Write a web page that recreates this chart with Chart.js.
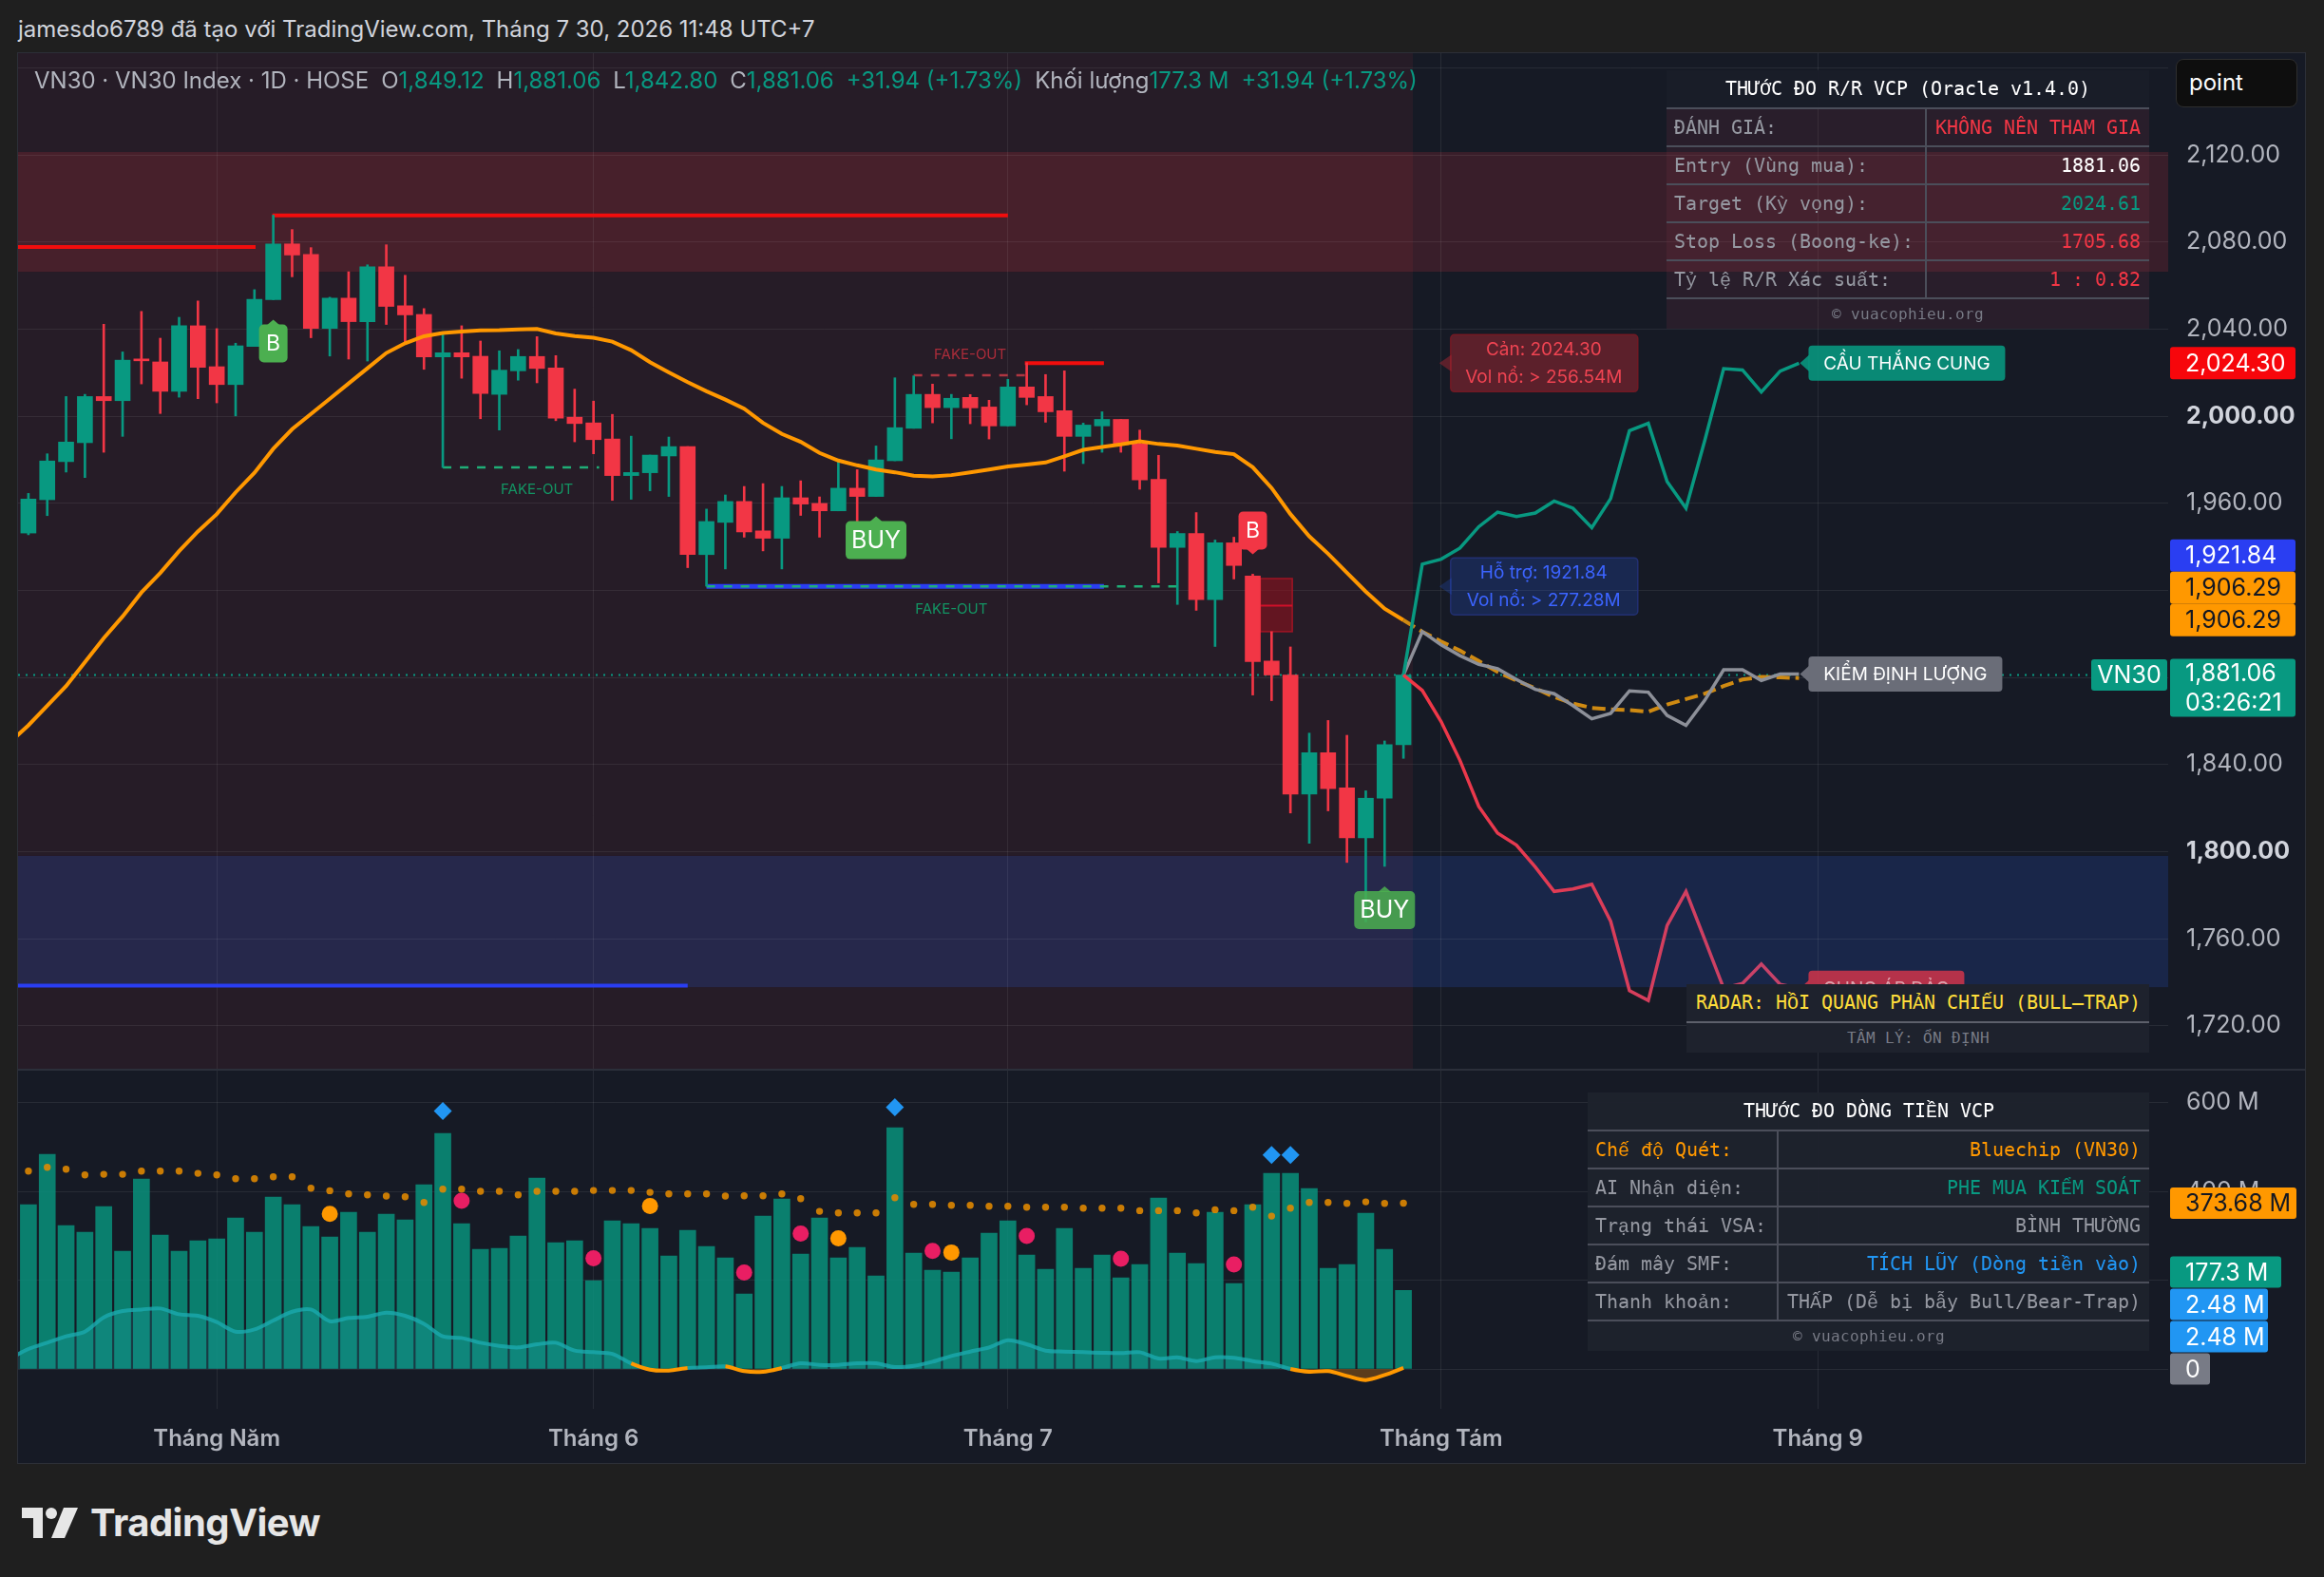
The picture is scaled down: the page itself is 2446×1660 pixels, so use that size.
<!DOCTYPE html>
<html lang="vi">
<head>
<meta charset="utf-8">
<title>VN30 · VN30 Index · 1D</title>
<script src="https://cdn.jsdelivr.net/npm/chart.js@4.4.1/dist/chart.umd.min.js"></script>
<style>
  @font-face { font-family: "TblMono"; src: local("DejaVu Sans Mono"); }
  @font-face { font-family: "TblMono"; src: local("Liberation Mono"); unicode-range: U+1EA0-1EF9; }
  html, body { margin: 0; padding: 0; background: #1f1f1f; }
  body { width: 2446px; height: 1660px; position: relative; overflow: hidden; font-family: Inter, "Noto Sans", sans-serif; }
  #frame { position: absolute; left: 18px; top: 55px; width: 2407px; height: 1484px; background: #161a25; border: 1px solid #2c2f38; }
  canvas { position: absolute; }
  #priceChart { left: 19px; top: 56px; }
  #volChart { left: 19px; top: 1127px; }
  #sep { position: absolute; left: 19px; top: 1125px; width: 2407px; height: 2px; background: #2b2f3a; }
  #hdr { position: absolute; left: 19px; top: 16px; font-size: 24px; color: #d1d4dc; white-space: nowrap; }
  #legend { position: absolute; left: 36px; top: 70px; font-size: 24px; color: #b2b5be; white-space: nowrap; }
  #legend .g { color: #089981; }
  #legend .s { display: inline-block; width: 13px; }
  #point { position: absolute; left: 2290px; top: 62px; width: 128px; height: 51px; box-sizing: border-box;
           background: #0e0e0e; border: 1px solid #2e2e2e; border-radius: 8px; color: #fff; font-size: 24px;
           line-height: 47px; padding-left: 13px; }
  .tb { position: absolute; font-family: "TblMono", "DejaVu Sans Mono", monospace; font-size: 20px; }
  .tb .tt { height: 39px; line-height: 39px; text-align: center; color: #fff; }
  .tb .tr { display: flex; height: 38px; line-height: 38px; border-top: 2px solid #4b4e5a; }
  .tb .k { box-sizing: border-box; padding-left: 8px; color: #9598a1; white-space: nowrap; overflow: hidden; }
  .tb .v { flex: 1; border-left: 2px solid #4b4e5a; text-align: right; padding-right: 9px; white-space: nowrap; color: #9598a1; }
  .tb .tf { height: 31px; line-height: 31px; border-top: 2px solid #4b4e5a; text-align: center; font-size: 16px; color: #787b86; }
  #rr .tt { background: rgba(26, 29, 41, 0.96); }
  #rr .tr, #rr .tf { background: rgba(122, 51, 72, 0.2); }
  #rr .k { width: 272px; }
  #flow .tt, #flow .tr, #flow .tf { background: rgba(30, 34, 45, 0.96); }
  #flow .k { width: 199px; }
  #radar { position: absolute; left: 1775px; top: 1036px; width: 487px; font-family: "TblMono", "DejaVu Sans Mono", monospace; background: #1e222d; }
  #radar .a { height: 39px; line-height: 39px; text-align: center; font-size: 20px; color: #fddc3a; border-bottom: 2px solid #5d606b; }
  #radar .b { height: 31px; line-height: 31px; text-align: center; font-size: 16px; color: #787b86; }
  #logo { position: absolute; left: 23px; top: 1578px; display: flex; align-items: center; color: #e6e6e6; font-size: 40px; font-weight: 700; letter-spacing: -0.5px; }
  #logo svg { margin-right: 12px; }
</style>
</head>
<body>
<div id="hdr">jamesdo6789 đã tạo với TradingView.com, Tháng 7 30, 2026 11:48 UTC+7</div>
<div id="frame"></div>
<canvas id="priceChart" width="2407" height="1070"></canvas>
<canvas id="volChart" width="2407" height="413"></canvas>
<div id="sep"></div>
<div id="legend"></div>
<div id="point">point</div>

<div class="tb" id="rr" style="left:1754px;top:74px;width:508px">
  <div class="tt">THƯỚC ĐO R/R VCP (Oracle v1.4.0)</div>
  <div class="tr"><span class="k">ĐÁNH GIÁ:</span><span class="v" style="color:#f23645">KHÔNG NÊN THAM GIA</span></div>
  <div class="tr"><span class="k">Entry (Vùng mua):</span><span class="v" style="color:#ffffff">1881.06</span></div>
  <div class="tr"><span class="k">Target (Kỳ vọng):</span><span class="v" style="color:#089981">2024.61</span></div>
  <div class="tr"><span class="k">Stop Loss (Boong-ke):</span><span class="v" style="color:#f23645">1705.68</span></div>
  <div class="tr"><span class="k">Tỷ lệ R/R Xác suất:</span><span class="v" style="color:#f23645">1 : 0.82</span></div>
  <div class="tf">© vuacophieu.org</div>
</div>

<div class="tb" id="flow" style="left:1671px;top:1150px;width:591px">
  <div class="tt">THƯỚC ĐO DÒNG TIỀN VCP</div>
  <div class="tr"><span class="k" style="color:#ff9800">Chế độ Quét:</span><span class="v" style="color:#ff9800">Bluechip (VN30)</span></div>
  <div class="tr"><span class="k">AI Nhận diện:</span><span class="v" style="color:#089981">PHE MUA KIỂM SOÁT</span></div>
  <div class="tr"><span class="k">Trạng thái VSA:</span><span class="v">BÌNH THƯỜNG</span></div>
  <div class="tr"><span class="k">Đám mây SMF:</span><span class="v" style="color:#2196f3">TÍCH LŨY (Dòng tiền vào)</span></div>
  <div class="tr"><span class="k">Thanh khoản:</span><span class="v">THẤP (Dễ bị bẫy Bull/Bear-Trap)</span></div>
  <div class="tf">© vuacophieu.org</div>
</div>

<div id="radar">
  <div class="a">RADAR: HỒI QUANG PHẢN CHIẾU (BULL–TRAP)</div>
  <div class="b">TÂM LÝ: ỔN ĐỊNH</div>
</div>

<div id="logo">
  <svg width="60" height="32" viewBox="0 0 60 32"><path d="M0 0h22v32h-10v-21h-12z" fill="#e6e6e6"/><circle cx="31" cy="6" r="6" fill="#e6e6e6"/><path d="M44 0h15l-14 32h-14z" fill="#e6e6e6"/></svg>
  <span>TradingView</span>
</div>

<script>
// ---------- daily candles (VN30, 1D) ----------
const opens = [1946.3, 1961.6, 1979.1, 1987.8, 2009.0, 2007.1, 2026.2, 2024.9, 2011.4, 2041.5,
               2022.7, 2014.5, 2032.0, 2053.5, 2079.1, 2074.3, 2040.3, 2054.2, 2043.4, 2068.6,
               2050.7, 2046.7, 2027.2, 2029.1, 2027.5, 2010.0, 2020.8, 2027.4, 2022.1, 1999.5,
               1996.9, 1989.5, 1972.7, 1974.0, 1981.7, 1986.0, 1936.4, 1951.2, 1960.8, 1947.3,
               1943.9, 1962.5, 1959.9, 1956.5, 1966.9, 1963.1, 1979.5, 1994.4, 2010.0, 2003.9,
               2008.6, 2004.2, 1995.5, 2013.4, 2009.0, 2002.5, 1990.7, 1995.5, 1998.5, 1987.3,
               1971.0, 1939.7, 1946.1, 1915.7, 1941.8, 1926.6, 1887.5, 1881.1, 1826.4, 1845.4,
               1829.2, 1806.3, 1824.5, 1849.12];
const highs = [1964.5, 1982.7, 2009.0, 2010.0, 2042.2, 2029.5, 2048.1, 2035.8, 2045.4, 2052.9,
               2040.2, 2033.5, 2058.1, 2092.3, 2085.7, 2077.4, 2054.6, 2066.3, 2069.5, 2078.7,
               2064.7, 2049.4, 2037.8, 2041.5, 2034.5, 2030.0, 2030.6, 2036.5, 2027.8, 2012.4,
               2006.9, 2000.8, 1990.8, 1982.1, 1990.4, 1986.0, 1957.3, 1963.8, 1967.7, 1969.0,
               1967.7, 1970.3, 1962.9, 1979.2, 1975.4, 1986.3, 2017.6, 2018.5, 2014.7, 2010.0,
               2009.9, 2007.3, 2016.9, 2024.5, 2019.1, 2020.8, 1996.8, 2002.0, 1998.5, 1993.6,
               1982.0, 1947.0, 1955.7, 1943.1, 1944.4, 1927.4, 1901.0, 1894.0, 1854.4, 1860.2,
               1853.4, 1827.9, 1850.8, 1881.06];
const lows = [1945.5, 1954.3, 1974.3, 1971.8, 1983.4, 1990.7, 2014.8, 2001.2, 2008.7, 2008.0,
              2006.1, 2000.1, 2032.0, 2053.5, 2064.0, 2036.0, 2027.6, 2026.2, 2025.3, 2042.1,
              2033.8, 2021.5, 1976.4, 2017.4, 1998.8, 1993.6, 2016.5, 2015.3, 1997.9, 1988.2,
              1982.7, 1961.3, 1961.8, 1965.7, 1963.1, 1930.4, 1921.9, 1929.8, 1944.4, 1938.1,
              1929.8, 1954.4, 1944.4, 1956.5, 1943.6, 1963.1, 1979.5, 1994.4, 1996.9, 1989.6,
              1996.5, 1989.5, 1995.5, 2005.2, 1997.2, 1974.7, 1978.2, 1983.4, 1983.4, 1966.4,
              1923.4, 1913.5, 1910.8, 1894.2, 1925.2, 1871.9, 1869.3, 1817.7, 1803.8, 1818.7,
              1795.0, 1767.7, 1793.2, 1842.80];
const closes = [1961.9, 1979.4, 1988.1, 2009.0, 2007.1, 2025.7, 2025.4, 2011.4, 2041.5, 2022.4,
                2014.5, 2032.3, 2053.7, 2079.1, 2074.0, 2040.3, 2054.2, 2043.4, 2068.6, 2050.4,
                2046.5, 2027.2, 2029.1, 2027.2, 2010.4, 2021.1, 2027.4, 2021.9, 1999.1, 1996.6,
                1989.2, 1972.7, 1974.1, 1982.1, 1986.0, 1936.4, 1951.6, 1960.8, 1946.8, 1943.9,
                1962.5, 1959.6, 1956.5, 1966.9, 1963.1, 1979.9, 1994.7, 2010.0, 2003.9, 2008.2,
                2003.8, 1995.5, 2013.4, 2008.6, 2002.0, 1990.7, 1995.9, 1998.5, 1986.9, 1970.7,
                1939.7, 1946.1, 1915.7, 1941.8, 1931.4, 1887.2, 1881.1, 1826.4, 1845.4, 1828.9,
                1806.3, 1824.5, 1849.12, 1881.06];
// trend average (orange); maPrior is the bar just left of the visible range
const maPrior = 1850;
const trendMa = [1858, 1867, 1876, 1887, 1898, 1908, 1919, 1928, 1938, 1947,
                 1955, 1965, 1974, 1985, 1994, 2001, 2008, 2015, 2022, 2029,
                 2033.5, 2036.7, 2038.2, 2038.8, 2039.4, 2039.5, 2039.8, 2040, 2038, 2036.8,
                 2036, 2034.2, 2030.3, 2024.8, 2020.1, 2015.6, 2011.4, 2007.6, 2003.4, 1996.9,
                 1991.8, 1988.2, 1983.1, 1979.6, 1977.4, 1975.5, 1974.2, 1972.6, 1972.3, 1972.9,
                 1974.2, 1975.5, 1976.9, 1977.8, 1978.7, 1981.5, 1984.5, 1985.8, 1987, 1988.4,
                 1987.2, 1986.5, 1985, 1983.5, 1982.5, 1976.5, 1967, 1955, 1944.8, 1936.8,
                 1928.1, 1919.4, 1911.6, 1906.29];

// ---------- projected paths (start at the last bar) ----------
const projStart = 73;
const projBull = [1881.06, 1932, 1934.3, 1939.4, 1949.2, 1955.9, 1953.9, 1955.5, 1961, 1957.7, 1948.8,
                  1962.1, 1993.3, 1996.7, 1969.9, 1957.7, 1988.9, 2021.8, 2021.2, 2011.1, 2020.7, 2024.3];
const projBase = [1881.06, 1901, 1895, 1890, 1886, 1884, 1879, 1874.5, 1872.5, 1867, 1861,
                  1863.5, 1873.8, 1873.2, 1862.5, 1858, 1869.5, 1883.5, 1883.5, 1878.6, 1881.5, 1881.5];
const projBear = [1881.06, 1874, 1859.7, 1841.9, 1820.7, 1808.5, 1803, 1792.9, 1781.7, 1782.8, 1785,
                  1768, 1736.1, 1731.6, 1766.1, 1781.7, 1759.5, 1737.2, 1739.4, 1748.3, 1739, 1737.2];
const maForward = [1906.29, 1901, 1896.5, 1892.3, 1887.5, 1882.5, 1878.5, 1875, 1871, 1868, 1866,
                   1865.3, 1865, 1864.2, 1867.5, 1870, 1872.5, 1876, 1879, 1880.2, 1880, 1879.7];

// ---------- volume pane (millions) ----------
const volumes = [370.3, 483.8, 323.2, 308.2, 366, 265.4, 428.1, 301.8, 265.4, 289,
                 293.2, 340.3, 308.2, 387.4, 370.3, 321.1, 297.5, 353.2, 308.2, 348.9,
                 336.1, 415.3, 530.8, 327.5, 269.7, 271.8, 299.7, 430.2, 284.7, 289,
                 199.1, 333.9, 327.5, 316.8, 254.7, 312.5, 276.1, 250.4, 169.1, 344.6,
                 383.1, 259, 340.3, 250.4, 274, 209.8, 543.7, 261.1, 222.6, 218.3,
                 250.4, 306.1, 333.9, 256.9, 224.8, 316.8, 226.9, 256.9, 205.5, 235.5,
                 385.3, 261.1, 237.6, 353.2, 192.6, 370.3, 441, 441, 406.7, 226.9,
                 235.5, 351, 269.7, 177.3];
const volAvg = [446, 454.5, 450.2, 437.4, 438.8, 438.8, 446, 446, 446, 440.9,
                437.4, 428.8, 428.8, 433.1, 433.1, 407.4, 401.7, 394.5, 392.4, 389.6,
                388.1, 375.3, 405.3, 405.3, 400.3, 400.3, 392.4, 400.3, 400.3, 400.3,
                402.4, 402.4, 402.4, 398.1, 394.5, 394.5, 394.5, 389.6, 390.3, 390.3,
                394.5, 383.9, 355.3, 351.8, 351.8, 351.8, 386, 371, 371, 368.9,
                368.9, 366.7, 366.7, 364.6, 364.6, 364.6, 362.5, 362.5, 362.5, 356.8,
                356.8, 356.8, 351.8, 358.9, 356.8, 364.6, 344.6, 362.5, 375.3, 375.3,
                373.2, 376.7, 373.2, 373.68];
const smfPrior = 23;
const smfCloud = [45, 59.2, 73.5, 84.2, 116.3, 130.6, 134.1, 136.3, 123.4, 119.9,
                  105.6, 84.2, 89.2, 109.2, 129.1, 134.1, 107.7, 114.9, 117.7, 127,
                  119.9, 102, 73.5, 69.9, 59.2, 52.1, 48.5, 55.6, 59.2, 41.4,
                  37.8, 34.2, 12.8, -1.4, -3.6, 2.1, 3.6, 5.7, -5, -6.4,
                  2.1, 12.8, 9.3, 9.3, 12.8, 12.8, 4.3, 7.1, 16.4, 29.3,
                  39.2, 48.5, 64.9, 55.6, 41.4, 39.2, 37.8, 36.4, 35.7, 37.8,
                  23.5, 26.4, 17.8, 26.4, 25, 17.8, 12.1, 0, -6.4, -5,
                  -15.7, -25, -13.6, 2.48];
const pinkDotBars = [23, 30, 38, 41, 48, 53, 58, 64];
const pinkDotVals = [378.9, 249.7, 217.6, 305.4, 266.1, 299.7, 248.3, 235.5];
const amberDotBars = [16, 33, 43, 49];
const amberDotVals = [349.6, 367.5, 294.7, 262.6];
const diamondBars = [22, 46, 66, 67];
const diamondVals = [581.5, 590, 482.3, 482.3];

// ---------- levels / zones / markers ----------
// [fromBar, toBar, price]
const resistOld = [-0.55, 12.06, 2077.7];
const resistHigh = [12.95, 52, 2092.2];
const supportOld = [-0.55, 35, 1738.4];
const resistNew = [52.9, 57.1, 2024.3];
const supportNew = [36, 57.1, 1921.84];
const fakeDashLow = [22, 30.3, 1976.4];
const fakeDashHigh = [47, 52.9, 2018.8];
const fakeDashSup = [36, 61, 1921.84];
const resistZone = [2066.3, 2121.3];
const supportZone = [1737.7, 1798];
const historyEnd = 73.5;
const orderBlock = [65.4, 67.1, 1901, 1925.4, 1913];
const fakeTags = [[27, 1966, 'up'], [50, 2028.2, 'down'], [49, 1911.4, 'up']];
const buyBars = [45, 72];
const bBars = [13];
const sellBars = [65];
const resistInfo = [74.9, 2024.3, 'Cản: 2024.30', 'Vol nổ: > 256.54M'];
const supportInfo = [74.9, 1921.84, 'Hỗ trợ: 1921.84', 'Vol nổ: > 277.28M'];
const lastEma = 1906.29;
const countdown = '03:26:21';

const priceTicks = [1720, 1760, 1800, 1840, 1880, 1920, 1960, 2000, 2040, 2080, 2120, 2160];
const hiddenPriceLabels = [2160];
const volTicks = [0, 200, 400, 600];
const monthTicks = [10, 30, 52, 75, 95];
const monthNames = ['Tháng Năm', 'Tháng 6', 'Tháng 7', 'Tháng Tám', 'Tháng 9'];

// ---------- helpers ----------
const GREEN = '#089981', RED = '#f23645';
const GRID = 'rgba(255,255,255,0.075)';
const AXIS_FONT = 25;
const last = closes.length - 1;
const fmt2 = v => v.toLocaleString('en-US', { minimumFractionDigits: 2, maximumFractionDigits: 2 });
const bars = opens.map((_, i) => i);
const isUp = bars.map(i => closes[i] >= opens[i]);
const seg = a => [{ x: a[0], y: a[2] }, { x: a[1], y: a[2] }];
const proj = arr => arr.map((v, k) => ({ x: projStart + k, y: v }));
const projEnd = projStart + projBull.length - 1;
const isBoldTick = ctx => ctx.tick && (ctx.tick.value === 2000 || ctx.tick.value === 1800);

// legend line
const chg = closes[last] - closes[last - 1];
const pct = chg / closes[last - 1] * 100;
const chgTxt = `+${chg.toFixed(2)} (+${pct.toFixed(2)}%)`;
document.getElementById('legend').innerHTML =
  `VN30 · VN30 Index · 1D · HOSE<span class="s"></span>O<span class="g">${fmt2(opens[last])}</span><span class="s"></span>` +
  `H<span class="g">${fmt2(highs[last])}</span><span class="s"></span>L<span class="g">${fmt2(lows[last])}</span><span class="s"></span>` +
  `C<span class="g">${fmt2(closes[last])}</span><span class="s"></span><span class="g">${chgTxt}</span><span class="s"></span>` +
  `Khối lượng<span class="g">${volumes[last]} M</span><span class="s"></span><span class="g">${chgTxt}</span>`;

function rr(c, x, y, w, h, r) { c.beginPath(); c.roundRect(x, y, w, h, r); }

function signalTag(c, cx, tipY, text, bg, below) {
  const w = text.length > 1 ? 64 : 30, h = 40;
  const top = below ? tipY + 5 : tipY - 5 - h;
  c.fillStyle = bg;
  rr(c, cx - w / 2, top, w, h, 5); c.fill();
  c.beginPath();
  if (below) { c.moveTo(cx - 7, top + 1); c.lineTo(cx, tipY); c.lineTo(cx + 7, top + 1); }
  else { c.moveTo(cx - 7, top + h - 1); c.lineTo(cx, tipY); c.lineTo(cx + 7, top + h - 1); }
  c.fill();
  c.fillStyle = '#fff';
  c.font = text.length > 1 ? '25px Inter' : '23px Inter';
  c.textAlign = 'center'; c.textBaseline = 'middle';
  c.fillText(text, cx, top + h / 2 + 1);
}

function leftPointerBox(c, tipX, tipY, w, h, gap, bg, border) {
  const x = tipX + gap, top = tipY - h / 2;
  c.fillStyle = bg;
  rr(c, x, top, w, h, 4); c.fill();
  if (border) { c.strokeStyle = border; c.lineWidth = 1.5; c.stroke(); }
  c.beginPath(); c.moveTo(x + 1, tipY - 9); c.lineTo(tipX, tipY); c.lineTo(x + 1, tipY + 9); c.closePath(); c.fill();
  return { x, top };
}

function axisBadge(c, x, cy, w, h, bg, lines, fg) {
  c.fillStyle = bg;
  rr(c, x, cy - h / 2, w, h, 3); c.fill();
  c.fillStyle = fg; c.font = AXIS_FONT + 'px Inter'; c.textAlign = 'left'; c.textBaseline = 'middle';
  const step = h / lines.length;
  lines.forEach((t, k) => c.fillText(t, x + 16, cy - h / 2 + step * (k + 0.5) + 1));
}

// ---------- price pane plugin ----------
const pricePlugin = {
  id: 'pricePlugin',
  beforeDraw(chart) {
    const { ctx: c, chartArea: a, scales: { x, y } } = chart;
    c.save();
    c.beginPath(); c.rect(a.left, a.top, a.right - a.left, a.bottom - a.top); c.clip();
    c.fillStyle = 'rgba(242,54,69,0.075)';
    c.fillRect(a.left, a.top, x.getPixelForValue(historyEnd) - a.left, a.bottom - a.top);
    const band = (z, col) => {
      const y1 = y.getPixelForValue(z[1]), y2 = y.getPixelForValue(z[0]);
      c.fillStyle = col; c.fillRect(a.left, y1, a.right - a.left, y2 - y1);
    };
    band(resistZone, 'rgba(242,54,69,0.16)');
    band(supportZone, 'rgba(41,98,255,0.17)');
    c.restore();
  },
  beforeDatasetsDraw(chart) {
    const { ctx: c, scales: { x, y } } = chart;
    const [b0, b1, lo, hi, mid] = orderBlock;
    const px0 = x.getPixelForValue(b0), px1 = x.getPixelForValue(b1);
    const py0 = y.getPixelForValue(hi), py1 = y.getPixelForValue(lo), pm = y.getPixelForValue(mid);
    c.save();
    c.fillStyle = 'rgba(150,18,30,0.55)'; c.fillRect(px0, py0, px1 - px0, py1 - py0);
    c.strokeStyle = 'rgba(170,20,35,0.9)'; c.lineWidth = 1.5; c.strokeRect(px0, py0, px1 - px0, py1 - py0);
    c.strokeStyle = '#d0102a'; c.lineWidth = 2;
    c.beginPath(); c.moveTo(px0, pm); c.lineTo(px1, pm); c.stroke();
    c.restore();
  },
  afterDatasetsDraw(chart) {
    const { ctx: c, scales: { x, y } } = chart;
    c.save();
    // fake-out captions
    c.font = '15px Inter'; c.textAlign = 'center'; c.textBaseline = 'middle';
    fakeTags.forEach(([b, p, k]) => {
      c.fillStyle = k === 'down' ? 'rgba(242,54,69,0.65)' : 'rgba(16,170,110,0.85)';
      c.fillText('FAKE-OUT', x.getPixelForValue(b), y.getPixelForValue(p));
    });
    // signal tags
    bBars.forEach(i => signalTag(c, x.getPixelForValue(i), y.getPixelForValue(lows[i]) + 21, 'B', '#4caf50', true));
    buyBars.forEach((i, k) => signalTag(c, x.getPixelForValue(i), y.getPixelForValue(lows[i]) + 21, 'BUY',
      k === 0 ? '#4caf50' : 'rgba(76,175,80,0.85)', true));
    sellBars.forEach(i => signalTag(c, x.getPixelForValue(i), y.getPixelForValue(highs[i]) - 21, 'B', RED, false));
    // level info boxes
    const info = (d, bg, border, fg) => {
      const tx = x.getPixelForValue(d[0]), ty = y.getPixelForValue(d[1]);
      const b = leftPointerBox(c, tx, ty, 197, 60, 12, bg, border);
      c.fillStyle = fg; c.font = '19px Inter'; c.textAlign = 'center'; c.textBaseline = 'middle';
      c.fillText(d[2], b.x + 98, ty - 14);
      c.fillText(d[3], b.x + 98, ty + 15);
    };
    info(resistInfo, 'rgba(178,40,51,0.45)', 'rgba(120,25,35,0.9)', '#ef4452');
    info(supportInfo, 'rgba(41,98,255,0.2)', 'rgba(35,50,120,0.9)', '#3c64ff');
    // scenario pills
    const pill = (val, text, bg, fg, w) => {
      const tx = x.getPixelForValue(projEnd) + 1, ty = y.getPixelForValue(val);
      const b = leftPointerBox(c, tx, ty, w, 37, 9, bg);
      c.fillStyle = fg; c.font = '19px Inter'; c.textAlign = 'center'; c.textBaseline = 'middle';
      c.fillText(text, b.x + w / 2, ty + 1);
    };
    pill(projBear[projBear.length - 1], 'CUNG ÁP ĐẢO', 'rgba(200,52,74,0.9)', 'rgba(255,255,255,0.55)', 164);
    pill(projBull[projBull.length - 1], 'CẦU THẮNG CUNG', 'rgba(8,153,129,0.88)', '#ffffff', 207);
    pill(projBase[projBase.length - 1], 'KIỂM ĐỊNH LƯỢNG', '#6a6d78', '#ffffff', 204);
    c.restore();
  },
  afterDraw(chart) {
    const { ctx: c, chartArea: a, scales: { y } } = chart;
    c.save();
    const bx = a.right + 2, bw = 132, bh = 34;
    const yEma = y.getPixelForValue(lastEma);
    axisBadge(c, bx, y.getPixelForValue(resistInfo[1]), bw, bh, '#f7060b', [fmt2(resistInfo[1])], '#fff');
    axisBadge(c, bx, yEma - 2 * bh, bw, bh, '#2a3ef2', [fmt2(supportInfo[1])], '#fff');
    axisBadge(c, bx, yEma - bh, bw, bh, '#ff9800', [fmt2(lastEma)], '#131722');
    axisBadge(c, bx, yEma, bw, bh, '#ff9800', [fmt2(lastEma)], '#131722');
    const yl = y.getPixelForValue(closes[last]);
    axisBadge(c, bx, yl + 13.5, bw, 61, GREEN, [fmt2(closes[last]), countdown], '#fff');
    c.fillStyle = GREEN; rr(c, a.right - 81, yl - 16.5, 80, 33, 3); c.fill();
    c.fillStyle = '#fff'; c.font = AXIS_FONT + 'px Inter'; c.textAlign = 'center'; c.textBaseline = 'middle';
    c.fillText('VN30', a.right - 41, yl + 1);
    c.restore();
  }
};

// ---------- volume pane plugin ----------
const volPlugin = {
  id: 'volPlugin',
  afterDraw(chart) {
    const { ctx: c, chartArea: a, scales: { y } } = chart;
    c.save();
    const bx = a.right + 2, bh = 33;
    const y0 = y.getPixelForValue(0);
    const smfLast = smfCloud[last].toFixed(2) + ' M';
    axisBadge(c, bx, y.getPixelForValue(volAvg[last]), 133, bh, '#ff9800', [volAvg[last].toFixed(2) + ' M'], '#131722');
    axisBadge(c, bx, y0 - 3 * (bh + 1), 117, bh, GREEN, [volumes[last].toFixed(1) + ' M'], '#fff');
    axisBadge(c, bx, y0 - 2 * (bh + 1), 103, bh, '#2196f3', [smfLast], '#fff');
    axisBadge(c, bx, y0 - (bh + 1), 103, bh, '#2196f3', [smfLast], '#fff');
    axisBadge(c, bx, y0, 42, bh, '#787b86', ['0'], '#fff');
    c.restore();
  }
};

Chart.defaults.font.family = 'Inter';
Chart.defaults.color = '#b2b5be';

const xScale = (showLabels) => ({
  type: 'linear', min: -0.55, max: 113.6, offset: false,
  grid: { color: GRID, drawTicks: false, offset: false },
  border: { display: false },
  afterBuildTicks: s => { s.ticks = monthTicks.map(v => ({ value: v })); },
  afterFit: s => { s.height = showLabels ? 57 : 0; s.paddingLeft = 0; s.paddingRight = 0; },
  ticks: showLabels
    ? { display: true, autoSkip: false, maxRotation: 0, padding: 17, color: '#b2b5be',
        font: { size: 24, weight: '600' }, callback: (v, i) => monthNames[i] }
    : { display: false }
});

const redGrad = ctx => {
  const ch = ctx.chart;
  if (!ch.chartArea) return RED;
  const x = ch.scales.x;
  const g = ch.ctx.createLinearGradient(x.getPixelForValue(projStart), 0, x.getPixelForValue(projEnd), 0);
  g.addColorStop(0, '#f23645'); g.addColorStop(1, '#c4436c');
  return g;
};

const lineDs = (data, color, width, order, dash) => ({
  type: 'line', data, borderColor: color, borderWidth: width, borderDash: dash || [],
  pointRadius: 0, tension: 0, fill: false, order, borderCapStyle: 'butt'
});

new Chart(document.getElementById('priceChart'), {
  type: 'bar',
  data: {
    datasets: [
      lineDs(seg(resistOld), '#f20d0d', 4, 12),
      lineDs(seg(resistHigh), '#f20d0d', 4, 12),
      lineDs(seg(supportOld), '#2a3ef2', 4, 12),
      lineDs(seg(resistNew), '#f20d0d', 4, 12),
      lineDs(seg(supportNew), '#2a3ef2', 5, 12),
      lineDs(seg(fakeDashSup), '#1fae77', 2.5, 11, [9, 9]),
      lineDs(seg(fakeDashLow), '#1fae77', 2.5, 11, [9, 9]),
      lineDs(seg(fakeDashHigh), 'rgba(200,60,70,0.85)', 2.5, 11, [9, 9]),
      lineDs([{ x: -0.55, y: closes[last] }, { x: 113.6, y: closes[last] }], GREEN, 2, 10, [2, 6]),
      {
        type: 'bar', order: 7, grouped: false, barThickness: 2,
        data: bars.map(i => ({ x: i, y: [lows[i], highs[i]] })),
        backgroundColor: bars.map(i => isUp[i] ? GREEN : RED)
      },
      {
        type: 'bar', order: 6, grouped: false, barThickness: 16, minBarLength: 2,
        data: bars.map(i => ({ x: i, y: [opens[i], closes[i]] })),
        backgroundColor: bars.map(i => isUp[i] ? GREEN : RED)
      },
      lineDs([{ x: -1, y: maPrior }].concat(bars.map(i => ({ x: i, y: trendMa[i] }))), '#ff9800', 4, 5),
      lineDs(proj(maForward), '#cf8a12', 4, 4, [14, 6]),
      lineDs(proj(projBase), '#8d9099', 3.5, 3),
      lineDs(proj(projBear), redGrad, 3.5, 2),
      lineDs(proj(projBull), GREEN, 3.5, 2)
    ]
  },
  options: {
    responsive: false, animation: false, events: [],
    layout: { padding: 0, autoPadding: false },
    plugins: { legend: { display: false }, tooltip: { enabled: false } },
    scales: {
      x: xScale(false),
      y: {
        type: 'linear', position: 'right', min: 1699.8, max: 2166.7, beginAtZero: false,
        grid: { color: GRID, drawTicks: false },
        border: { display: false },
        afterBuildTicks: s => { s.ticks = priceTicks.map(v => ({ value: v })); },
        afterFit: s => { s.width = 144; s.paddingTop = 0; s.paddingBottom = 0; },
        ticks: {
          padding: 19,
          color: ctx => isBoldTick(ctx) ? '#d1d4dc' : '#b2b5be',
          font: ctx => ({ family: 'Inter', size: AXIS_FONT, weight: isBoldTick(ctx) ? '700' : '400' }),
          callback: v => hiddenPriceLabels.includes(v) ? '' : fmt2(v)
        }
      }
    }
  },
  plugins: [pricePlugin]
});

new Chart(document.getElementById('volChart'), {
  type: 'bar',
  data: {
    datasets: [
      {
        type: 'bar', order: 6, grouped: false, barThickness: 17,
        data: bars.map(i => ({ x: i, y: volumes[i] })),
        backgroundColor: 'rgba(8,153,129,0.8)'
      },
      {
        type: 'line', order: 5, data: [{ x: -1, y: smfPrior }].concat(bars.map(i => ({ x: i, y: smfCloud[i] }))),
        borderWidth: 4, pointRadius: 0, tension: 0.3,
        borderColor: 'rgba(28,170,175,0.8)',
        segment: { borderColor: s => (s.p0.parsed.y < 0 || s.p1.parsed.y < 0) ? '#ff9800' : 'rgba(28,170,175,0.8)' },
        fill: { target: { value: 0 }, above: 'rgba(30,160,165,0.25)', below: 'rgba(150,90,20,0.55)' }
      },
      {
        type: 'line', order: 4, showLine: false, data: bars.map(i => ({ x: i, y: volAvg[i] })),
        pointRadius: 3.7, pointBorderWidth: 0, pointBackgroundColor: 'rgba(228,138,0,0.88)'
      },
      {
        type: 'line', order: 3, showLine: false, data: pinkDotBars.map((b, k) => ({ x: b, y: pinkDotVals[k] })),
        pointRadius: 8.5, pointBorderWidth: 0, pointBackgroundColor: '#e91e63'
      },
      {
        type: 'line', order: 3, showLine: false, data: amberDotBars.map((b, k) => ({ x: b, y: amberDotVals[k] })),
        pointRadius: 8.5, pointBorderWidth: 0, pointBackgroundColor: '#ff9800'
      },
      {
        type: 'line', order: 2, showLine: false, data: diamondBars.map((b, k) => ({ x: b, y: diamondVals[k] })),
        pointStyle: 'rectRot', pointRadius: 9.5, pointBorderWidth: 0, pointBackgroundColor: '#2196f3'
      }
    ]
  },
  options: {
    responsive: false, animation: false, events: [],
    layout: { padding: 0, autoPadding: false },
    plugins: { legend: { display: false }, tooltip: { enabled: false } },
    scales: {
      x: xScale(true),
      y: {
        type: 'linear', position: 'right', min: -89.9, max: 672.4, beginAtZero: false,
        grid: { color: GRID, drawTicks: false },
        border: { display: false },
        afterBuildTicks: s => { s.ticks = volTicks.map(v => ({ value: v })); },
        afterFit: s => { s.width = 144; s.paddingTop = 0; s.paddingBottom = 0; },
        ticks: { padding: 19, color: '#b2b5be', font: { size: AXIS_FONT }, callback: v => v === 0 ? '0' : v + ' M' }
      }
    }
  },
  plugins: [volPlugin]
});
</script>
</body>
</html>
